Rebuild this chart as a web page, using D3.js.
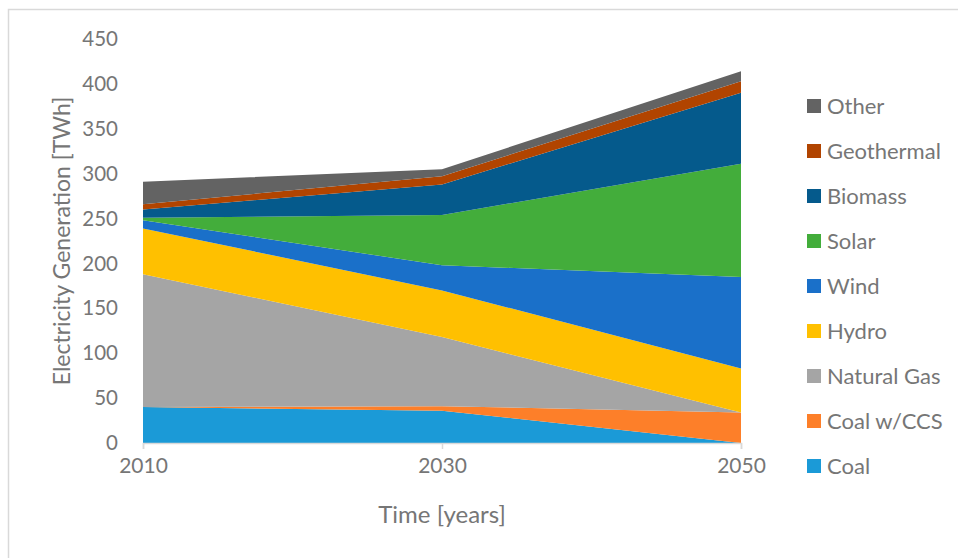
<!DOCTYPE html>
<html>
<head>
<meta charset="utf-8">
<script src="https://cdn.jsdelivr.net/npm/d3@7"></script>
<style>
  html, body { margin: 0; padding: 0; background: #fff; }
  svg { display: block; font-family: Lato, "Open Sans", sans-serif; }
</style>
</head>
<body>
<svg id="chart" width="958" height="558"></svg>
<script>
// Years on the horizontal axis
const years = [2010, 2030, 2050];

// Generation by source, TWh (stacked bottom to top)
const coal       = [40, 36, 0];
const coalCCS    = [0, 5, 34];
const naturalGas = [148, 77, 0];
const hydro      = [51, 52, 49];
const wind       = [9, 28, 102];
const solar      = [3, 56, 126];
const biomass    = [9, 34, 79];
const geothermal = [6, 9, 13];
const other      = [25, 8, 11];

const seriesNames = ["Coal", "Coal w/CCS", "Natural Gas", "Hydro", "Wind", "Solar", "Biomass", "Geothermal", "Other"];
const seriesValues = [coal, coalCCS, naturalGas, hydro, wind, solar, biomass, geothermal, other];
const seriesColors = ["#1b9ad7", "#fd7f29", "#a5a5a5", "#ffc000", "#1a70c9", "#43ad3b", "#055a8c", "#b14400", "#636363"];

const yTicks = [0, 50, 100, 150, 200, 250, 300, 350, 400, 450];

const svg = d3.select("#chart");

// Chart frame
svg.append("rect")
  .attr("x", 8.5).attr("y", 9.5)
  .attr("width", 1000).attr("height", 600)
  .attr("fill", "#fff")
  .attr("stroke", "#d9d9d9")
  .attr("stroke-width", 1.5);

const x = d3.scaleLinear().domain([2010, 2050]).range([143, 741]);
const y = d3.scaleLinear().domain([0, 450]).range([443, 39]);

// Build rows for the stack layout
const rows = years.map((yr, i) => {
  const row = { year: yr };
  seriesNames.forEach((n, k) => { row[n] = seriesValues[k][i]; });
  return row;
});

const stacked = d3.stack().keys(seriesNames)(rows);

const area = d3.area()
  .x(d => x(d.data.year))
  .y0(d => y(d[0]))
  .y1(d => y(d[1]));

svg.append("g")
  .selectAll("path")
  .data(stacked)
  .join("path")
  .attr("d", area)
  .attr("fill", (d, i) => seriesColors[i]);

// Horizontal axis
const xAxis = d3.axisBottom(x)
  .tickValues(years)
  .tickFormat(d3.format("d"))
  .tickSize(6)
  .tickPadding(9);

const gx = svg.append("g")
  .attr("transform", `translate(0,${y(0)})`)
  .call(xAxis);
gx.select(".domain").attr("stroke", "#d9d9d9").attr("stroke-width", 1.5);
gx.selectAll(".tick line").attr("stroke", "#d9d9d9").attr("stroke-width", 1.5);
gx.selectAll(".tick text")
  .attr("fill", "#767676")
  .style("font-size", "21px")
  .style("font-family", "Lato, 'Open Sans', sans-serif");

// Vertical axis: labels only
const yAxis = d3.axisLeft(y)
  .tickValues(yTicks)
  .tickSize(0)
  .tickPadding(25);

const gy = svg.append("g")
  .attr("transform", `translate(${x(2010)},0)`)
  .call(yAxis);
gy.select(".domain").remove();
gy.selectAll(".tick text")
  .attr("fill", "#767676")
  .style("font-size", "20.5px")
  .style("font-family", "Lato, 'Open Sans', sans-serif");

// Axis titles
svg.append("text")
  .attr("x", x(2030))
  .attr("y", 523)
  .attr("text-anchor", "middle")
  .attr("fill", "#767676")
  .style("font-size", "24px")
  .text("Time [years]");

svg.append("text")
  .attr("transform", `translate(70,${(y(0) + y(450)) / 2}) rotate(-90)`)
  .attr("text-anchor", "middle")
  .attr("fill", "#767676")
  .style("font-size", "23px")
  .text("Electricity Generation [TWh]");

// Legend, top entry is the top of the stack
const legendItems = seriesNames.map((n, i) => ({ name: n, color: seriesColors[i] })).reverse();
const legend = svg.append("g")
  .selectAll("g")
  .data(legendItems)
  .join("g")
  .attr("transform", (d, i) => `translate(807,${106 + i * 45})`);

legend.append("rect")
  .attr("x", 0).attr("y", -7)
  .attr("width", 14).attr("height", 14)
  .attr("fill", d => d.color);

legend.append("text")
  .attr("x", 20)
  .attr("y", 0)
  .attr("dy", "0.35em")
  .attr("fill", "#767676")
  .style("font-size", "22px")
  .text(d => d.name);
</script>
</body>
</html>
